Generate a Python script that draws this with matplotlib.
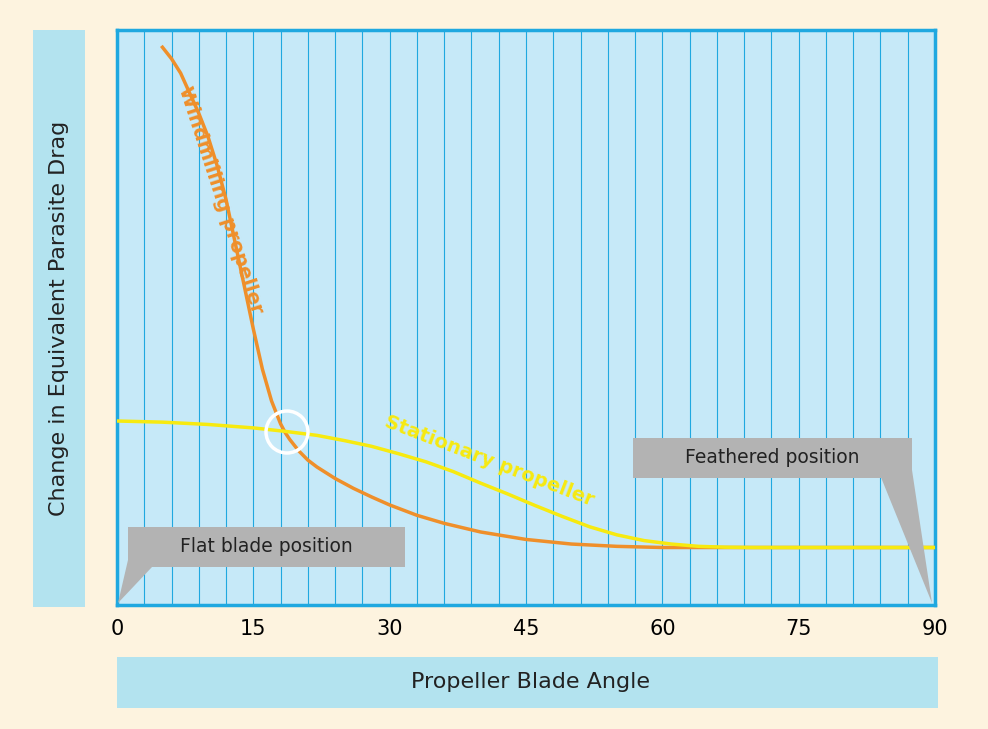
import matplotlib
matplotlib.use("Agg")
import matplotlib.pyplot as plt
from matplotlib.patches import Rectangle, Polygon, Ellipse

wind_x = [5, 6, 7, 8, 9, 10, 11, 12, 13, 14, 15, 16, 17, 18, 18.5, 19, 20, 21, 22, 24, 26, 28, 30, 33, 36, 40, 45, 50, 55, 60, 65, 70, 90]
wind_y = [97, 95, 92.5, 89, 85.5, 81.5, 76.5, 70.5, 63, 55.5, 48, 41, 35.5, 31.5, 30, 28.8, 26.8, 25.2, 24, 22, 20.3, 18.8, 17.4, 15.6, 14.2, 12.7, 11.4, 10.6, 10.2, 10, 10, 10, 10]
stat_x = [0, 5, 10, 15, 18.5, 22, 25, 28, 31, 34, 37, 40, 43, 46, 49, 52, 55, 58, 61, 64, 67, 70, 90]
stat_y = [32, 31.8, 31.4, 30.8, 30.2, 29.5, 28.6, 27.6, 26.3, 24.9, 23.2, 21.2, 19.3, 17.3, 15.4, 13.6, 12.2, 11.2, 10.6, 10.2, 10.05, 10, 10]
xticks = [0, 15, 30, 45, 60, 75, 90]

W, H = 988, 729
fig = plt.figure(figsize=(W/100, H/100), dpi=100)
fig.patch.set_facecolor("#fdf3df")

def fx(p): return p / W
def fy(p): return 1 - p / H

ax = fig.add_axes([fx(117), fy(605), fx(935) - fx(117), fy(30) - fy(605)])
ax.set_facecolor("#c6e9f8")
ax.set_xlim(0, 90)
ax.set_ylim(0, 100)
for g in range(3, 90, 3):
    ax.axvline(g, color="#1fa8e0", lw=0.8, zorder=1)
for s in ax.spines.values():
    s.set_color("#1fa8e0"); s.set_linewidth(2.5)
ax.set_xticks(xticks)
ax.set_xticklabels([str(t) for t in xticks], fontsize=15)
ax.tick_params(axis="x", length=0, pad=10)
ax.set_yticks([])

ax.plot(wind_x, wind_y, color="#ef8f2a", lw=2.5, zorder=3)
ax.plot(stat_x, stat_y, color="#f7ea10", lw=2.5, zorder=4)
fig.patches.append(Ellipse((fx(287), fy(432)), 42 / W, 42 / H, transform=fig.transFigure,
                           fill=False, ec="white", lw=2.5, zorder=5))

ax.text(11.4, 70.4, "Windmilling propeller", rotation=-72, color="#ef8f2a", fontsize=14,
        fontweight="bold", ha="center", va="center", zorder=6)
ax.text(41, 25, "Stationary propeller", rotation=-21, color="#f7ea10", fontsize=14,
        fontweight="bold", ha="center", va="center", zorder=6)

def box(x0, y0, x1, y1, tri, text):
    fig.patches.append(Polygon([(fx(a), fy(b)) for a, b in tri], closed=True,
                               transform=fig.transFigure, fc="#b3b3b3", ec="none", zorder=10))
    fig.patches.append(Rectangle((fx(x0), fy(y1)), fx(x1) - fx(x0), fy(y0) - fy(y1),
                                 transform=fig.transFigure, fc="#b3b3b3", ec="none", zorder=10))
    fig.text(fx((x0 + x1) / 2), fy((y0 + y1) / 2), text, fontsize=13.5, ha="center",
             va="center", color="#222222", zorder=11)

box(128, 527, 405, 567, [(128, 560), (152, 567), (118, 603)], "Flat blade position")
box(633, 438, 912, 478, [(878, 470), (912, 470), (932, 603)], "Feathered position")

fig.patches.append(Rectangle((fx(33), fy(607)), fx(52), fy(30) - fy(607),
                             transform=fig.transFigure, fc="#b3e3ef", ec="none"))
fig.text(fx(59), fy(318), "Change in Equivalent Parasite Drag", rotation=90,
         fontsize=16, ha="center", va="center", color="#222222")
fig.patches.append(Rectangle((fx(117), fy(708)), fx(938) - fx(117), fy(657) - fy(708),
                             transform=fig.transFigure, fc="#b3e3ef", ec="none"))
fig.text(fx(530), fy(682), "Propeller Blade Angle", fontsize=16, ha="center",
         va="center", color="#222222")

fig.savefig("out.png", dpi=100, facecolor=fig.get_facecolor())
